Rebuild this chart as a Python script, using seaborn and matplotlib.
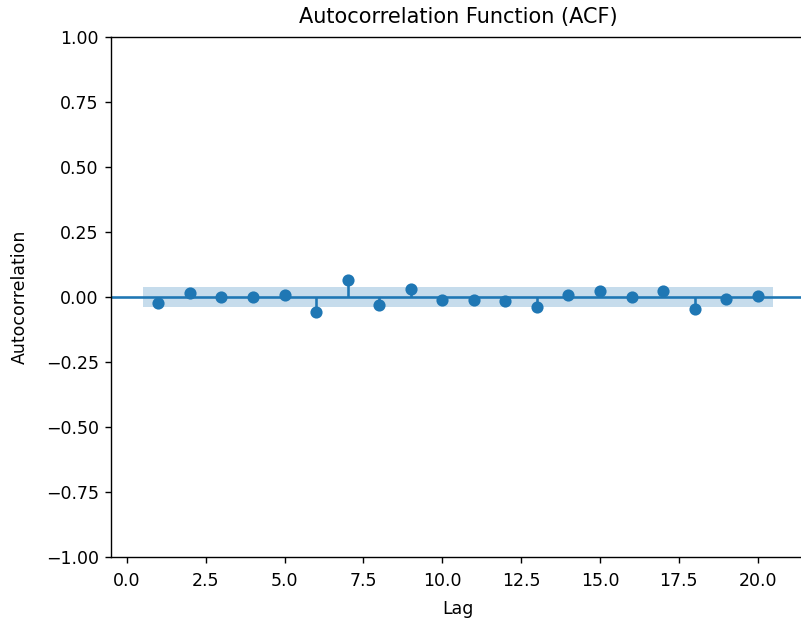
import numpy as np
import pandas as pd
import seaborn as sns
import matplotlib
matplotlib.use("Agg")
import matplotlib.pyplot as plt

LAGS = list(range(1, 21))
ACF_VALUES = [-0.022, 0.017, 0.000, 0.001, 0.006, -0.058, 0.065, -0.031, 0.032, -0.012,
              -0.011, -0.016, -0.037, 0.009, 0.024, 0.000, 0.025, -0.047, -0.006, 0.004]
CONF_LIMIT = 0.037
BAND_X = [0.5, 20.5]

COLOR = "#1f77b4"


def main():
    df = pd.DataFrame({"lag": LAGS, "acf": ACF_VALUES})

    fig = plt.figure(figsize=(801 / 125, 621 / 125), dpi=125)
    # axes runs off the right edge, like the cropped reference
    ax = fig.add_axes([111 / 801, (621 - 557) / 621, (805 - 111) / 801, (557 - 37) / 621])
    ax.spines["right"].set_visible(False)

    ax.fill_between(BAND_X, [-CONF_LIMIT] * 2, [CONF_LIMIT] * 2, color=COLOR, alpha=0.25, lw=0)
    ax.axhline(0, color=COLOR, lw=1.5)
    ax.vlines(df["lag"], 0, df["acf"], color=COLOR, lw=1.5)
    sns.scatterplot(data=df, x="lag", y="acf", ax=ax, color=COLOR, s=36,
                    edgecolor=COLOR, linewidth=1, zorder=3)

    ax.set_xlim(-0.5, 21.5)
    ax.set_ylim(-1, 1)
    ax.set_yticks(np.arange(-1, 1.01, 0.25))
    ax.set_xticks(np.arange(0, 20.1, 2.5))
    ax.tick_params(axis="x", pad=5)
    ax.set_title("Autocorrelation Function (ACF)", pad=8)
    ax.set_xlabel("Lag", labelpad=6)
    ax.set_ylabel("Autocorrelation", labelpad=10)

    fig.savefig("out.png", dpi=125)


if __name__ == "__main__":
    main()
